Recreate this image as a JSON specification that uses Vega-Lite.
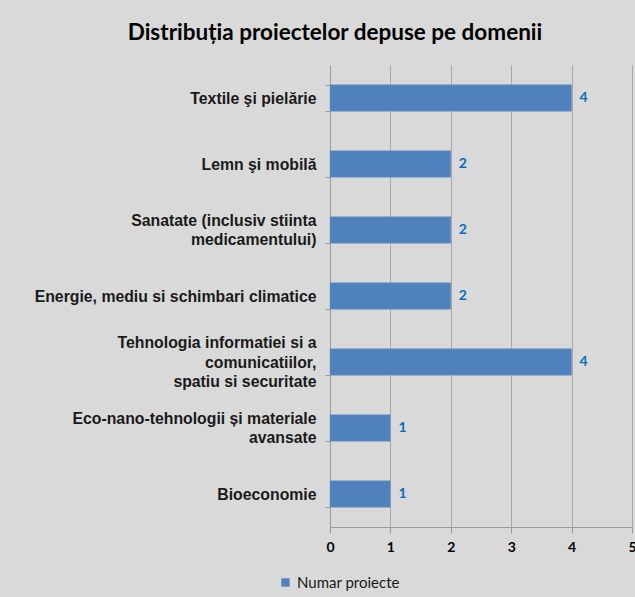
{
  "$schema": "https://vega.github.io/schema/vega-lite/v6.json",
  "width": 302,
  "height": 462,
  "autosize": {"type": "none"},
  "padding": {"left": 330, "top": 65, "right": 3, "bottom": 70},
  "background": "#d9d9d9",
  "title": {
    "text": "Distribuția proiectelor depuse pe domenii",
    "font": "Lato",
    "fontSize": 22.5,
    "fontWeight": "bold",
    "color": "#000000",
    "anchor": "middle",
    "frame": "group",
    "dx": -146,
    "dy": 29,
    "baseline": "alphabetic",
    "offset": 24
  },
  "data": {
    "values": [
      {"domeniu": "Textile şi pielărie", "numar": 4},
      {"domeniu": "Lemn şi mobilă", "numar": 2},
      {"domeniu": "Sanatate (inclusiv stiinta|medicamentului)", "numar": 2},
      {"domeniu": "Energie, mediu si schimbari climatice", "numar": 2},
      {"domeniu": "Tehnologia informatiei si a|comunicatiilor,|spatiu si securitate", "numar": 4},
      {"domeniu": "Eco-nano-tehnologii și materiale|avansate", "numar": 1},
      {"domeniu": "Bioeconomie", "numar": 1}
    ]
  },
  "config": {
    "view": {"stroke": null},
    "axis": {"domainColor": "#9a9a9a", "tickColor": "#9a9a9a", "gridColor": "#a8a8a8"}
  },
  "encoding": {
    "y": {
      "field": "domeniu",
      "type": "nominal",
      "sort": null,
      "scale": {"paddingInner": 0.6, "paddingOuter": 0.3},
      "axis": {
        "title": null,
        "labelExpr": "split(datum.label, '|')",
        "labelFont": "Liberation Sans",
        "labelFontSize": 15.8,
        "labelFontWeight": "bold",
        "labelColor": "#1a1a1a",
        "labelLineHeight": 19.5,
        "labelPadding": 9,
        "labelOffset": {"expr": "-(length(split(datum.label, '|')) - 1) * 9.75"},
        "tickSize": 5,
        "tickBand": "extent",
        "labelLimit": 400,
        "grid": false
      }
    },
    "x": {
      "field": "numar",
      "type": "quantitative",
      "scale": {"domain": [0, 5], "nice": false},
      "axis": {
        "title": null,
        "values": [0, 1, 2, 3, 4, 5],
        "grid": true,
        "labelFont": "Lato",
        "labelFontSize": 14,
        "labelFontWeight": "bold",
        "labelColor": "#000000",
        "tickSize": 6,
        "labelPadding": 7,
        "labelFlush": false
      }
    }
  },
  "layer": [
    {
      "mark": {"type": "bar", "stroke": "#6a95cc", "strokeWidth": 0.5},
      "encoding": {
        "color": {
          "datum": "Numar proiecte",
          "type": "nominal",
          "scale": {"range": ["#4f81bd"]},
          "legend": {
            "title": null,
            "orient": "none",
            "legendX": -52,
            "legendY": 510,
            "symbolType": "square",
            "symbolSize": 70,
            "symbolStrokeWidth": 0,
            "labelFont": "Lato",
            "labelFontSize": 15,
            "labelColor": "#1a1a1a",
            "labelOffset": 4
          }
        }
      }
    },
    {
      "mark": {"type": "text", "align": "left", "dx": 8, "font": "Lato", "fontSize": 14, "fontWeight": "bold", "color": "#0070c0"},
      "encoding": {"text": {"field": "numar", "type": "quantitative"}}
    }
  ]
}
